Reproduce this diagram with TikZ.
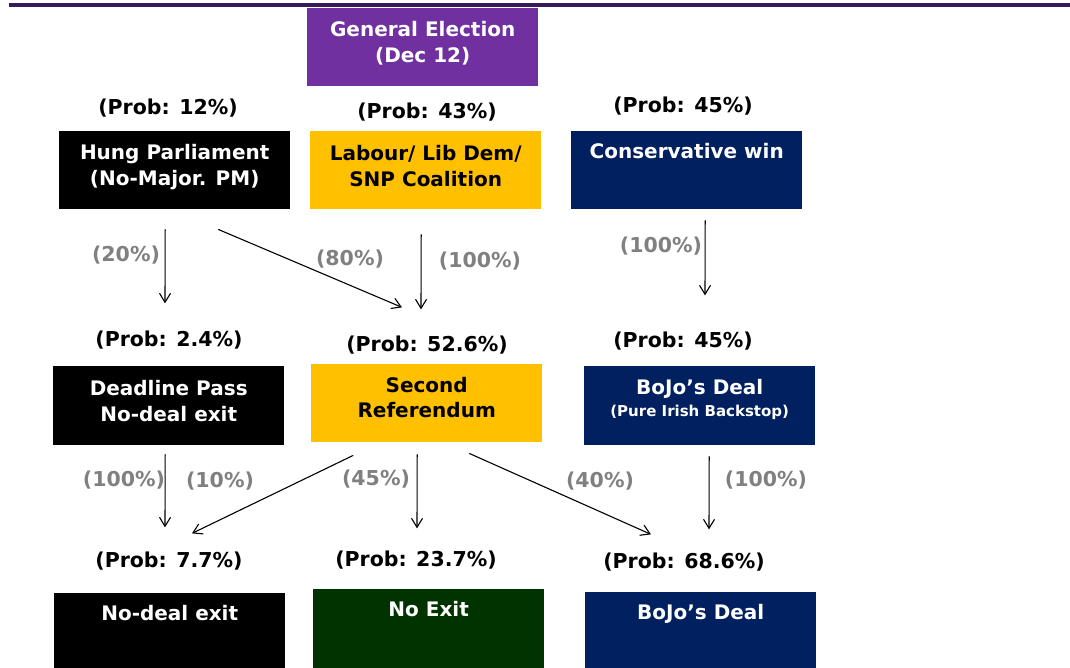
\documentclass[tikz,border=0pt]{standalone}
\usepackage{fontspec}
\setmainfont{DejaVu Sans}
\usetikzlibrary{arrows.meta}

\definecolor{rulepurple}{HTML}{371B58}
\definecolor{elecpurple}{HTML}{7030A0}
\definecolor{coalgold}{HTML}{FFC000}
\definecolor{toryblue}{HTML}{002060}
\definecolor{remaingreen}{HTML}{003300}
\definecolor{pctgray}{HTML}{808080}

\tikzset{
  box/.style={fill=#1, minimum width=231pt, minimum height=78pt, inner sep=0pt, anchor=north west},
  boxtext/.style={text=white, font=\bfseries\fontsize{20}{26}\selectfont, align=center, anchor=north, inner sep=0pt},
  prob/.style={font=\bfseries\fontsize{20.5}{24}\selectfont, inner sep=0pt},
  pct/.style={prob, text=pctgray},
  arr/.style={-{Straight Barb[length=9pt,width=11pt]}, line width=1.1pt}
}

\begin{document}
\begin{tikzpicture}[x=1pt, y=-1pt]
  \useasboundingbox (0,0) rectangle (1070,668);
  \draw[rulepurple, line width=4pt] (9,5) -- (1070,5);

  % election
  \node[box=elecpurple] (elec) at (307,8) {};
  \node[boxtext] (electxt) at ([yshift=-13pt]elec.north) {General Election\\(Dec 12)};

  % first round
  \node[prob] (p12) at (168,108) {(Prob: 12\%)};
  \node[prob] (p43) at (427,112) {(Prob: 43\%)};
  \node[prob] (p45a) at (683,106) {(Prob: 45\%)};

  \node[box=black] (hung) at (59,131) {};
  \node[box=coalgold] (lab) at (310,131) {};
  \node[box=toryblue] (cons) at (571,131) {};
  \node[boxtext] (hungtxt) at ([yshift=-13pt]hung.north) {Hung Parliament\\(No-Major. PM)};
  \node[boxtext, text=black] (labtxt) at ([yshift=-14pt]lab.north) {Labour/ Lib Dem/\\SNP Coalition};
  \node[boxtext] (constxt) at ([yshift=-12pt]cons.north) {Conservative win};

  % second round
  \node[prob] (p24) at (169,340) {(Prob: 2.4\%)};
  \node[prob] (p526) at (427,345) {(Prob: 52.6\%)};
  \node[prob] (p45b) at (683,341) {(Prob: 45\%)};

  \node[box=black, minimum height=79pt] (dead) at (53,366) {};
  \node[box=coalgold] (second) at (311,364) {};
  \node[box=toryblue, minimum height=79pt] (bojo) at (584,366) {};
  \node[boxtext] (deadtxt) at ([yshift=-14pt]dead.north) {Deadline Pass\\No-deal exit};
  \node[boxtext, text=black, font=\bfseries\fontsize{20}{25}\selectfont] (secondtxt) at ([yshift=-13pt]second.north) {Second\\Referendum};
  \node[boxtext, font=\bfseries\fontsize{20}{22}\selectfont] (bojotxt) at ([yshift=-13pt]bojo.north) {BoJo’s Deal\\{\fontsize{15}{17}\selectfont(Pure Irish Backstop)}};

  % outcomes
  \node[prob] (p77) at (169,561) {(Prob: 7.7\%)};
  \node[prob] (p237) at (416,560) {(Prob: 23.7\%)};
  \node[prob] (p686) at (684,562) {(Prob: 68.6\%)};

  \node[box=black, minimum height=90pt] (nodeal) at (54,593) {};
  \node[box=remaingreen, minimum height=90pt] (noexit) at (313,589) {};
  \node[box=toryblue, minimum height=90pt] (deal) at (585,592) {};
  \node[boxtext] (nodealtxt) at ([yshift=-12pt]nodeal.north) {No-deal exit};
  \node[boxtext] (noexittxt) at ([yshift=-12pt]noexit.north) {No Exit};
  \node[boxtext] (dealtxt) at ([yshift=-12pt]deal.north) {BoJo’s Deal};

  % branches
  \draw[arr] ([shift={(-9.5,20)}]hung.south) -- ([shift={(-4,-27.3)}]p24.north);
  \draw[arr] ([shift={(43.5,20)}]hung.south) -- ([shift={(-25,-28.3)}]p526.north);
  \draw[arr] ([shift={(-4.5,25)}]lab.south) -- ([shift={(-6,-26.3)}]p526.north);
  \draw[arr] ([shift={(18.5,11)}]cons.south) -- ([shift={(22,-36.3)}]p45b.north);

  \draw[arr] ([shift={(-3.5,9)}]dead.south) -- ([shift={(-4,-24.3)}]p77.north);
  \draw[arr] ([shift={(-73.5,13)}]second.south) -- ([shift={(23,-18.3)}]p77.north);
  \draw[arr] ([shift={(-9.5,12)}]second.south) -- ([shift={(1,-22.3)}]p237.north);
  \draw[arr] ([shift={(42.5,11)}]second.south) -- ([shift={(-33,-18.3)}]p686.north);
  \draw[arr] ([shift={(9.5,11)}]bojo.south) -- ([shift={(25,-23.3)}]p686.north);

  \node[pct] (c20) at (126,255) {(20\%)};
  \node[pct] (c80) at (350,259) {(80\%)};
  \node[pct] (c100a) at (480,261) {(100\%)};
  \node[pct] (c100b) at (661,246) {(100\%)};

  \node[pct] (c100c) at (124,480) {(100\%)};
  \node[pct] (c10) at (220,481) {(10\%)};
  \node[pct] (c45) at (376,479) {(45\%)};
  \node[pct] (c40) at (600,481) {(40\%)};
  \node[pct] (c100d) at (766,480) {(100\%)};
\end{tikzpicture}
\end{document}
